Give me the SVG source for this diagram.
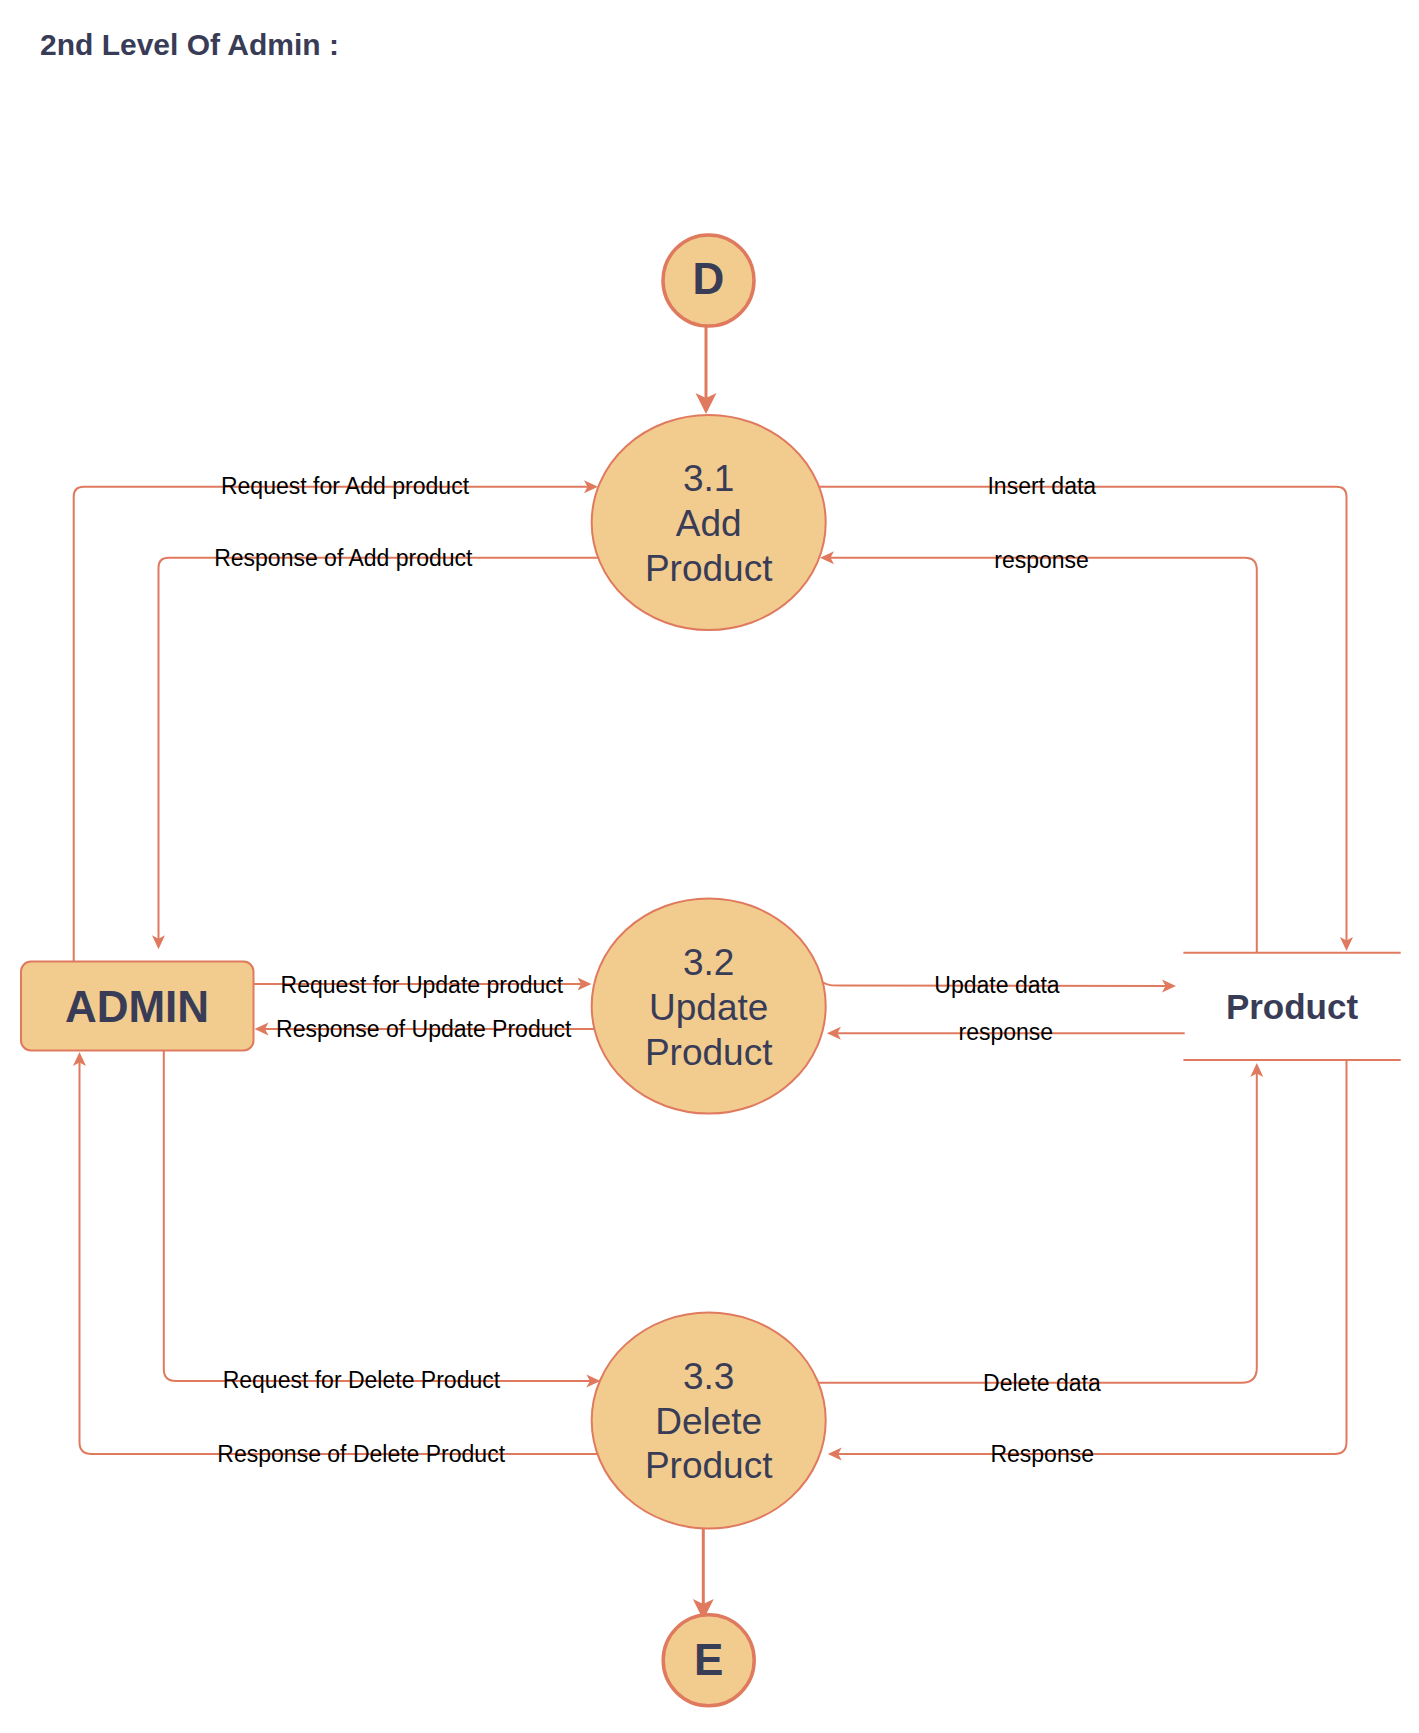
<svg xmlns="http://www.w3.org/2000/svg" width="1419" height="1733" viewBox="0 0 1419 1733">
<style>
.proc{fill:#F2CC8F;stroke:#E07A5F;stroke-width:2}
.conn{fill:#F2CC8F;stroke:#E07A5F;stroke-width:3.5}
.edge{fill:none;stroke:#E07A5F;stroke-width:2}
.thick{fill:none;stroke:#E07A5F;stroke-width:3}
.ptxt{font-family:"Liberation Sans",Arial,sans-serif;font-size:37px;fill:#393C56;text-anchor:middle}
.btxt{font-family:"Liberation Sans",Arial,sans-serif;font-weight:bold;fill:#393C56;text-anchor:middle}
.lbl{font-family:"Liberation Sans",Arial,sans-serif;font-size:23px;fill:#000;text-anchor:middle}
</style>
<defs>
<marker id="arr" markerUnits="userSpaceOnUse" markerWidth="16" markerHeight="16" viewBox="0 -8 16 16" refX="10" refY="0" orient="auto">
<path d="M0,-6.5 L14,0 L0,6.5 L3.5,0 Z" fill="#E07A5F"/>
</marker>
<marker id="arrB" markerUnits="userSpaceOnUse" markerWidth="24" markerHeight="24" viewBox="0 -12 24 24" refX="16" refY="0" orient="auto">
<path d="M0,-10.5 L21,0 L0,10.5 L5,0 Z" fill="#E07A5F"/>
</marker>
</defs>
<rect width="1419" height="1733" fill="#fff"/>
<text x="40" y="55" class="btxt" style="font-size:30px;text-anchor:start">2nd Level Of Admin :</text>

<g id="connectors">
<path class="thick" d="M706,326 L706,409" marker-end="url(#arrB)"/>
<path class="thick" d="M703.3,1528.3 L703.3,1615" marker-end="url(#arrB)"/>
<path class="edge" d="M73.7,961.5 L73.7,496.7 Q73.7,486.7 83.7,486.7 L594,486.7" marker-end="url(#arr)"/>
<path class="edge" d="M598,557.7 L168.5,557.7 Q158.5,557.7 158.5,567.7 L158.5,945.3" marker-end="url(#arr)"/>
<path class="edge" d="M818.7,486.7 L1336.5,486.7 Q1346.5,486.7 1346.5,496.7 L1346.5,947" marker-end="url(#arr)"/>
<path class="edge" d="M1256.8,952.7 L1256.8,569.7 Q1256.8,557.7 1244.8,557.7 L824,557.7" marker-end="url(#arr)"/>
<path class="edge" d="M253.6,984 L587.5,984" marker-end="url(#arr)"/>
<path class="edge" d="M594,1029 L258.5,1029" marker-end="url(#arr)"/>
<path class="edge" d="M823,982.5 C828,985.5 832,985.5 840,985.5 L1172,986" marker-end="url(#arr)"/>
<path class="edge" d="M1184.7,1033.3 L830.9,1033.3" marker-end="url(#arr)"/>
<path class="edge" d="M163.8,1050.7 L163.8,1369 Q163.8,1381 175.8,1381 L596.4,1381" marker-end="url(#arr)"/>
<path class="edge" d="M598,1454 L91.5,1454 Q79.5,1454 79.5,1442 L79.5,1056" marker-end="url(#arr)"/>
<path class="edge" d="M817.5,1382.7 L1241.8,1382.7 Q1256.8,1382.7 1256.8,1367.7 L1256.8,1067" marker-end="url(#arr)"/>
<path class="edge" d="M1346.5,1060 L1346.5,1442 Q1346.5,1454 1334.5,1454 L831.7,1454" marker-end="url(#arr)"/>
<text class="lbl" x="345" y="494">Request for Add product</text>
<text class="lbl" x="343.3" y="566">Response of Add product</text>
<text class="lbl" x="1041.8" y="494">Insert data</text>
<text class="lbl" x="1041.6" y="568">response</text>
<text class="lbl" x="421.9" y="992.7">Request for Update product</text>
<text class="lbl" x="423.7" y="1037.3">Response of Update Product</text>
<text class="lbl" x="997" y="993">Update data</text>
<text class="lbl" x="1005.8" y="1040">response</text>
<text class="lbl" x="361.4" y="1388.3">Request for Delete Product</text>
<text class="lbl" x="361.2" y="1461.7">Response of Delete Product</text>
<text class="lbl" x="1041.9" y="1390.7">Delete data</text>
<text class="lbl" x="1042.2" y="1461.7">Response</text>
</g>

<g id="node-D">
<circle class="conn" cx="708.5" cy="280.5" r="45.5"/>
<text class="btxt" x="708.5" y="294.3" style="font-size:44px">D</text>
</g>
<g id="node-3-1">
<ellipse class="proc" cx="708.7" cy="522.5" rx="117" ry="107.5"/>
<text class="ptxt" x="708.7" y="491">3.1</text>
<text class="ptxt" x="708.7" y="536">Add</text>
<text class="ptxt" x="708.7" y="581">Product</text>
</g>
<g id="node-3-2">
<ellipse class="proc" cx="708.7" cy="1006" rx="117" ry="107.5"/>
<text class="ptxt" x="708.7" y="975">3.2</text>
<text class="ptxt" x="708.7" y="1020">Update</text>
<text class="ptxt" x="708.7" y="1065">Product</text>
</g>
<g id="node-3-3">
<ellipse class="proc" cx="708.7" cy="1420.5" rx="117" ry="108"/>
<text class="ptxt" x="708.7" y="1389">3.3</text>
<text class="ptxt" x="708.7" y="1434">Delete</text>
<text class="ptxt" x="708.7" y="1478">Product</text>
</g>
<g id="node-E">
<circle class="conn" cx="708.7" cy="1660.3" r="45.5"/>
<text class="btxt" x="708.7" y="1675" style="font-size:44px">E</text>
</g>
<g id="node-ADMIN">
<rect class="proc" x="21" y="961.5" width="232.5" height="89" rx="10"/>
<text class="btxt" x="137" y="1022" style="font-size:44px">ADMIN</text>
</g>
<g id="node-Product">
<line class="edge" x1="1183.4" y1="952.7" x2="1400.7" y2="952.7"/>
<line class="edge" x1="1183.4" y1="1060" x2="1400.7" y2="1060"/>
<text class="btxt" x="1292" y="1019" style="font-size:35px">Product</text>
</g>
</svg>
